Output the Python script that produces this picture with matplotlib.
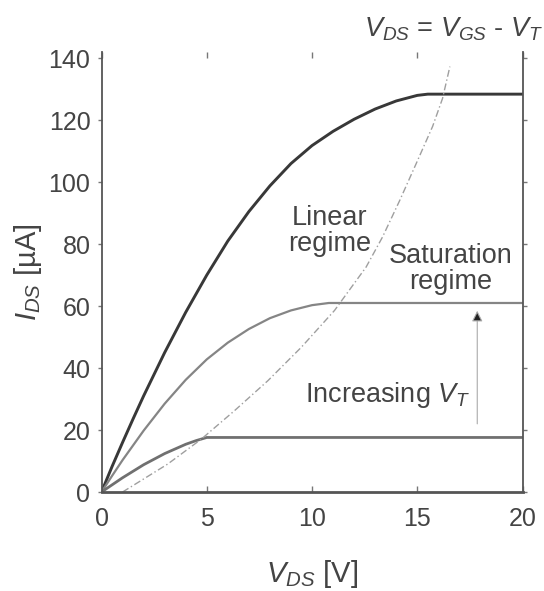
import matplotlib
matplotlib.use('Agg')
import matplotlib.pyplot as plt

# ---------------------------------------------------------------------------
# Values
# ---------------------------------------------------------------------------
# highest gate drive (lowest V_T)
vds_hi = [0, 0.5, 1, 1.5, 2, 3, 4, 5, 6, 7, 8, 9, 10, 11, 12, 13, 14, 15,
          15.5, 20]
ids_hi = [0, 8.2, 16.0, 23.6, 31.0, 45.0, 58.0, 70.0, 81.0, 90.5, 98.8,
          106.0, 111.8, 116.4, 120.3, 123.6, 126.2, 128.0, 128.4, 128.4]

# middle curve
vds_mid = [0, 0.5, 1, 2, 3, 4, 5, 6, 7, 8, 9, 10, 10.8, 20]
ids_mid = [0, 5.2, 10.3, 19.8, 28.5, 36.2, 42.8, 48.2, 52.6, 56.1, 58.6,
           60.3, 61.0, 61.0]

# lowest curve (highest V_T)
vds_lo = [0, 1, 2, 3, 4, 4.5, 5, 20]
ids_lo = [0, 4.6, 8.8, 12.4, 15.4, 16.6, 17.6, 17.6]

# V_DS = V_GS - V_T locus
vds_sat = [1.0, 2.0, 3.14, 4.73, 6.31, 7.9, 9.49, 11.07, 12.57, 13.35,
           14.16, 14.95, 15.73, 16.2, 16.55]
ids_sat = [0, 4.2, 9.0, 17.0, 26.2, 35.9, 46.7, 58.6, 72.6, 82.3,
           94.0, 106.0, 118.0, 127.0, 137.3]

x_ticks = [0, 5, 10, 15, 20]
y_ticks = [0, 20, 40, 60, 80, 100, 120, 140]

# ---------------------------------------------------------------------------
# Style
# ---------------------------------------------------------------------------
plt.rcParams['font.family'] = ['Liberation Sans', 'DejaVu Sans']
plt.rcParams['mathtext.fontset'] = 'custom'
plt.rcParams['mathtext.rm'] = 'Liberation Sans'
plt.rcParams['mathtext.it'] = 'Liberation Sans:italic'
plt.rcParams['mathtext.bf'] = 'Liberation Sans:bold'

txt = '#444444'
spine = '#555555'

fig = plt.figure(figsize=(5.44, 5.91), dpi=100)
ax = fig.add_axes([0.1866, 0.1675, 0.7739, 0.7445])

ax.plot(vds_hi, ids_hi, color='#383838', lw=2.1)
ax.plot(vds_mid, ids_mid, color='#858585', lw=1.6)
ax.plot(vds_lo, ids_lo, color='#707070', lw=2.0)
ax.plot(vds_sat, ids_sat, color='#9f9f9f', lw=1.0, ls=(0, (5, 2, 1, 2)))

ax.set_xlim(0, 20)
ax.set_ylim(0, 142)
ax.set_xticks(x_ticks)
ax.set_yticks(y_ticks)

ax.spines['top'].set_visible(False)
for s in ['left', 'right']:
    ax.spines[s].set_color(spine)
    ax.spines[s].set_linewidth(1.3)
ax.spines['bottom'].set_color(spine)
ax.spines['bottom'].set_linewidth(2.0)

ax.tick_params(axis='x', which='both', top=True, bottom=True, direction='in',
               length=4, width=1, color='#777777', labelsize=18,
               labelcolor=txt, pad=11)
ax.tick_params(axis='y', which='both', left=True, right=True, direction='out',
               length=3, width=1, color='#777777', labelsize=18,
               labelcolor=txt, pad=5)

ax.set_xlabel(r'$V_{DS}$ [V]', fontsize=21, color=txt, labelpad=19)
ax.set_ylabel(r'$I_{DS}$ [µA]', fontsize=21, color=txt, labelpad=3)

# ---------------------------------------------------------------------------
# Annotations
# ---------------------------------------------------------------------------
ax.text(10.85, 84.2, 'Linear\nregime', ha='center', va='center',
        fontsize=19.5, color=txt, linespacing=1.0)
ax.text(16.6, 72, 'Saturation\nregime', ha='center', va='center',
        fontsize=19.5, color=txt, linespacing=1.0)
ax.text(17.55, 31.3, r'Increasing $V_T$', ha='right', va='center',
        fontsize=19.5, color=txt)
# locus label sits above the plot, hard against the right edge
ax.text(21.0, 147, r'$V_{DS}$ = $V_{GS}$ - $V_T$', ha='right', va='baseline',
        fontsize=19.5, color=txt, clip_on=False)

ax.annotate('', xy=(17.85, 58.5), xytext=(17.85, 22),
            arrowprops=dict(arrowstyle='-|>', lw=0.8, edgecolor='#aaaaaa',
                            facecolor='#222222', mutation_scale=16,
                            shrinkA=0, shrinkB=0))

plt.savefig('out.png', dpi=100)
